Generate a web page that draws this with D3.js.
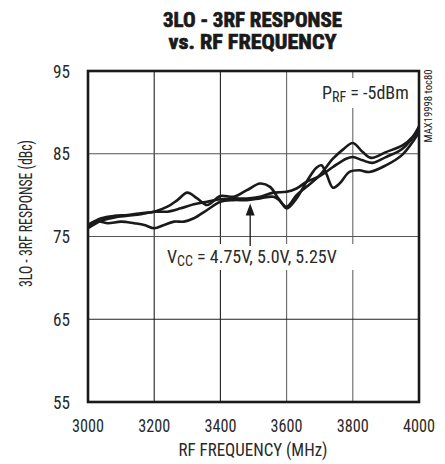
<!DOCTYPE html>
<html><head><meta charset="utf-8">
<script src="https://cdn.jsdelivr.net/npm/d3@7"></script>
<style>body{margin:0;background:#fff}svg{display:block}</style>
</head><body>
<script>
// ---- data ----
const xTicks = [3000, 3200, 3400, 3600, 3800, 4000];
const yTicks = [55, 65, 75, 85, 95];
const series1 = [[3000,76.4],[3040,77.2],[3080,77.5],[3120,77.6],[3160,77.8],[3200,78.0],[3240,78.6],[3270,79.4],[3300,80.3],[3330,79.6],[3360,78.8],[3400,79.9],[3440,79.8],[3480,80.6],[3520,81.4],[3550,81.0],[3575,79.6],[3600,78.6],[3630,80.0],[3660,81.0],[3700,82.4],[3740,84.4],[3770,85.5],[3800,86.3],[3830,85.2],[3855,84.5],[3900,85.2],[3950,86.0],[3980,87.0],[4000,88.3]];
const series2 = [[3000,76.0],[3040,76.9],[3080,77.3],[3120,77.5],[3160,77.7],[3200,78.0],[3240,78.0],[3280,78.4],[3320,78.9],[3360,79.2],[3400,79.5],[3440,79.6],[3480,79.6],[3520,79.8],[3560,80.3],[3600,80.4],[3630,80.8],[3660,81.6],[3700,82.3],[3740,83.4],[3780,84.4],[3800,84.6],[3830,84.2],[3860,83.9],[3900,84.6],[3950,85.6],[4000,88.0]];
const series3 = [[3000,76.1],[3030,76.8],[3060,76.6],[3100,76.8],[3140,76.6],[3170,76.4],[3200,76.0],[3230,76.4],[3260,76.8],[3290,76.8],[3320,77.2],[3360,78.2],[3400,79.2],[3440,79.4],[3480,79.4],[3520,79.6],[3560,79.8],[3580,79.3],[3600,78.4],[3630,79.6],[3660,81.6],[3690,83.3],[3705,83.6],[3720,82.6],[3740,80.9],[3760,81.4],[3790,82.8],[3820,83.0],[3850,82.8],[3900,83.6],[3950,84.9],[4000,87.6]];
const titleLines = ["3LO - 3RF RESPONSE", "vs. RF FREQUENCY"];
const xTitle = "RF FREQUENCY (MHz)";
const yTitle = "3LO - 3RF RESPONSE (dBc)";
const arrowPoint = [3490, 79.0];

// ---- layout ----
const W = 445, H = 464;
const m = {left: 88, right: 419, top: 71, bottom: 402};
const font = "'Liberation Sans Narrow','Roboto Condensed','DejaVu Sans Condensed','Arial Narrow',sans-serif";
const ink = "#1a1a1a";

const svg = d3.select("body").append("svg").attr("width", W).attr("height", H);
const x = d3.scaleLinear().domain([3000, 4000]).range([m.left, m.right]);
const y = d3.scaleLinear().domain([55, 95]).range([m.bottom, m.top]);

// grid
const g = svg.append("g");
g.selectAll(".vg").data(xTicks.slice(1, -1)).join("line")
  .attr("x1", d => x(d)).attr("x2", d => x(d)).attr("y1", m.top).attr("y2", m.bottom)
  .attr("stroke", (d,i) => i < 2 ? "#222" : "#666").attr("stroke-width", 1.1);
g.selectAll(".hg").data(yTicks.slice(1, -1)).join("line")
  .attr("y1", d => y(d)).attr("y2", d => y(d)).attr("x1", m.left).attr("x2", m.right)
  .attr("stroke", (d,i) => i === 0 ? "#222" : "#555").attr("stroke-width", 1.1);

// label backgrounds (break gridlines)
svg.append("rect").attr("x", 318).attr("y", 78).attr("width", 92).attr("height", 30).attr("fill", "#fff");
svg.append("rect").attr("x", 162).attr("y", 244).attr("width", 202).attr("height", 26).attr("fill", "#fff");

// curves
const line = d3.line().x(d => x(d[0])).y(d => y(d[1])).curve(d3.curveCatmullRom.alpha(0.5));
[series1, series2, series3].forEach(s => {
  svg.append("path").attr("d", line(s)).attr("fill", "none")
    .attr("stroke", ink).attr("stroke-width", 2.6).attr("stroke-linejoin", "round");
});

// frame
svg.append("rect").attr("x", m.left).attr("y", m.top).attr("width", m.right - m.left).attr("height", m.bottom - m.top)
  .attr("fill", "none").attr("stroke", ink).attr("stroke-width", 2.6);

// axes tick labels
svg.selectAll(".yt").data(yTicks).join("text")
  .attr("x", 70).attr("y", d => y(d) + 6.5).attr("text-anchor", "end")
  .attr("font-family", font).attr("font-size", 18).attr("fill", "#2a2a2a")
  .attr("textLength", 17).attr("lengthAdjust", "spacingAndGlyphs").text(d => d);
svg.selectAll(".xt").data(xTicks).join("text")
  .attr("x", d => x(d)).attr("y", 432).attr("text-anchor", "middle")
  .attr("font-family", font).attr("font-size", 18).attr("fill", "#2a2a2a")
  .attr("textLength", 32).attr("lengthAdjust", "spacingAndGlyphs").text(d => d);

// axis titles
svg.append("text").attr("x", 253).attr("y", 456).attr("text-anchor", "middle")
  .attr("font-family", font).attr("font-size", 18).attr("fill", "#2a2a2a")
  .attr("textLength", 149).attr("lengthAdjust", "spacingAndGlyphs").text(xTitle);
svg.append("text").attr("transform", "translate(32,213.5) rotate(-90)").attr("text-anchor", "middle")
  .attr("font-family", font).attr("font-size", 18).attr("fill", "#2a2a2a")
  .attr("textLength", 147).attr("lengthAdjust", "spacingAndGlyphs").text(yTitle);

// title
const tw = [179, 168], ty = [27, 49];
titleLines.forEach((t, i) => {
  svg.append("text").attr("x", 252.5).attr("y", ty[i]).attr("text-anchor", "middle")
    .attr("font-family", font).attr("font-weight", "bold").attr("font-size", 21).attr("fill", ink)
    .attr("stroke", ink).attr("stroke-width", 0.7)
    .attr("textLength", tw[i]).attr("lengthAdjust", "spacingAndGlyphs").text(t);
});

// PRF label
const prf = svg.append("text").attr("x", 322).attr("y", 99).attr("font-family", font).attr("font-size", 18).attr("fill", "#2a2a2a");
prf.append("tspan").text("P");
prf.append("tspan").attr("font-size", 14).attr("dy", 3).text("RF");
prf.append("tspan").attr("dy", -3).text(" = -5dBm");

// VCC label
const vcc = svg.append("text").attr("x", 167).attr("y", 263).attr("font-family", font).attr("font-size", 18).attr("fill", "#2a2a2a");
vcc.append("tspan").text("V");
vcc.append("tspan").attr("font-size", 14).attr("dy", 3).text("CC");
vcc.append("tspan").attr("dy", -3).text(" = 4.75V, 5.0V, 5.25V");

// arrow
const ax = x(arrowPoint[0]), ay = y(arrowPoint[1]);
svg.append("line").attr("x1", ax).attr("x2", ax).attr("y1", ay + 8).attr("y2", 246).attr("stroke", ink).attr("stroke-width", 1.3);
svg.append("path").attr("d", `M${ax},${ay} L${ax-4.5},${ay+12} L${ax+4.5},${ay+12} Z`).attr("fill", ink);

// side code
svg.append("text").attr("transform", "translate(432,106) rotate(-90)").attr("text-anchor", "middle")
  .attr("font-family", font).attr("font-size", 10).attr("fill", ink)
  .attr("textLength", 73).attr("lengthAdjust", "spacingAndGlyphs").text("MAX19998 toc80");
</script>
</body></html>
